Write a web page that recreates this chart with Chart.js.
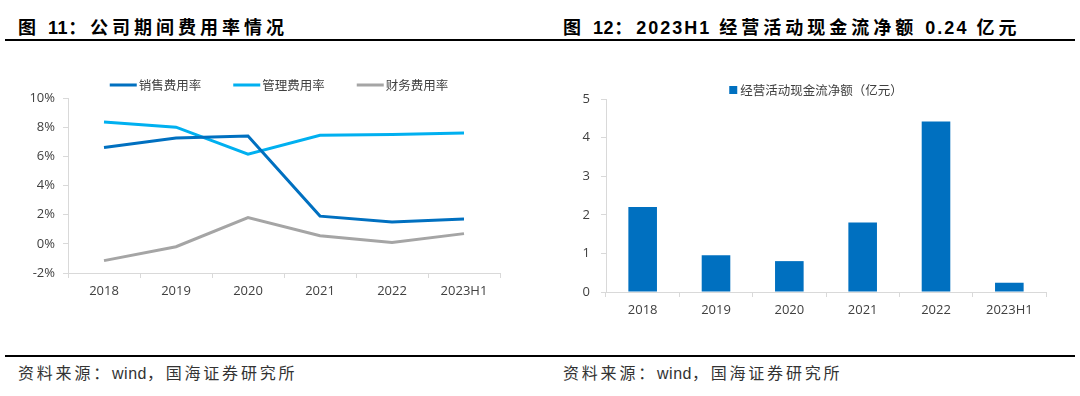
<!DOCTYPE html>
<html>
<head>
<meta charset="utf-8">
<script src="https://cdn.jsdelivr.net/npm/chart.js@4.4.0/dist/chart.umd.min.js"></script>
<style>
    body { margin: 0; width: 1080px; height: 396px; background: #fff; position: relative; overflow: hidden;
           font-family: 'Noto Sans CJK SC', sans-serif; }
    .title { position: absolute; top: 14px; font-size: 18px; font-weight: 700; letter-spacing: 4px;
             color: #000; line-height: 24px; white-space: nowrap; }
    .lat { font-family: 'Liberation Sans', sans-serif; letter-spacing: 0.5px; }
    .lat.wide { letter-spacing: 2px; }
    .rule { position: absolute; left: 5px; right: 5px; height: 2px; background: #000; }
    .src { position: absolute; top: 362px; font-size: 16px; letter-spacing: 2.8px; color: #333;
           line-height: 20px; white-space: nowrap; }
    .box { position: absolute; top: 50px; width: 540px; height: 270px; }
</style>
</head>
<body>
<div class="title" style="left:18px">图 <span class="lat">11</span>：公司期间费用率情况</div>
<div class="title" style="left:563px">图 <span class="lat">12</span>：<span class="lat wide">2023H1</span> 经营活动现金流净额 <span class="lat wide">0.24</span> 亿元</div>
<div class="rule" style="top:39px"></div>

<div class="box" style="left:0"><canvas id="rateChart" width="540" height="270"></canvas></div>
<div class="box" style="left:540px"><canvas id="cashChart" width="540" height="270"></canvas></div>

<div class="rule" style="top:355px"></div>
<div class="src" style="left:18px">资料来源：<span class="lat">wind</span>，国海证券研究所</div>
<div class="src" style="left:563px">资料来源：<span class="lat">wind</span>，国海证券研究所</div>

<script>
// categories and values
const years = ['2018', '2019', '2020', '2021', '2022', '2023H1'];
const salesRate = [6.6, 7.25, 7.4, 1.9, 1.5, 1.7];
const adminRate = [8.35, 8.0, 6.15, 7.45, 7.5, 7.6];
const financeRate = [-1.15, -0.2, 1.8, 0.55, 0.1, 0.7];
const rateTicks = [-2, 0, 2, 4, 6, 8, 10];

const cashFlow = [2.2, 0.95, 0.8, 1.8, 4.42, 0.24];
const cashTicks = [0, 1, 2, 3, 4, 5];

const axisColor = '#D9D9D9';
const labelColor = '#404040';
const tickFont = { family: "'Open Sans', sans-serif", size: 13 };

// one-row legend drawn where the reference has it
const rowLegend = {
    id: 'rowLegend',
    afterDraw(chart, args, opts) {
        const ctx = chart.ctx;
        ctx.save();
        ctx.font = opts.font;
        ctx.textBaseline = 'middle';
        const items = chart.data.datasets.map(ds => ({
            label: ds.label,
            color: ds.borderColor || ds.backgroundColor,
            w: ctx.measureText(ds.label).width
        }));
        const total = items.reduce((s, it) => s + opts.markW + opts.markGap + it.w, 0)
            + opts.itemGap * (items.length - 1);
        let x = opts.cx - total / 2;
        items.forEach(it => {
            ctx.fillStyle = it.color;
            if (opts.kind === 'line') {
                ctx.fillRect(x, opts.cy - 1.5, opts.markW, 3);
            } else {
                ctx.fillRect(x, opts.cy - opts.markW / 2, opts.markW, opts.markW);
            }
            x += opts.markW + opts.markGap;
            ctx.fillStyle = labelColor;
            ctx.fillText(it.label, x, opts.cy);
            x += it.w + opts.itemGap;
        });
        ctx.restore();
    }
};

function baseScales(ticksArr, fmt, yWidth, yPad, xHeight) {
    return {
        x: {
            type: 'category',
            offset: true,
            grid: { display: true, drawOnChartArea: false, drawTicks: true, tickLength: 5, color: axisColor, offset: true },
            border: { display: true, color: axisColor, width: 1 },
            ticks: { color: labelColor, font: tickFont, padding: 5, maxRotation: 0, autoSkip: false },
            afterFit: axis => { axis.height = xHeight; }
        },
        y: {
            min: ticksArr[0],
            max: ticksArr[ticksArr.length - 1],
            grid: { display: true, drawOnChartArea: false, drawTicks: true, tickLength: 5, color: axisColor },
            border: { display: true, color: axisColor, width: 1 },
            ticks: { color: labelColor, font: tickFont, padding: yPad, callback: fmt },
            afterBuildTicks: axis => { axis.ticks = ticksArr.map(v => ({ value: v })); },
            afterFit: axis => { axis.width = yWidth; }
        }
    };
}

new Chart(document.getElementById('rateChart'), {
    type: 'line',
    data: {
        labels: years,
        datasets: [
            { label: '销售费用率', data: salesRate, borderColor: '#0070C0' },
            { label: '管理费用率', data: adminRate, borderColor: '#00B0F0' },
            { label: '财务费用率', data: financeRate, borderColor: '#A5A5A5' }
        ].map(ds => Object.assign(ds, { borderWidth: 3, pointRadius: 0, tension: 0, fill: false }))
    },
    options: {
        responsive: false,
        animation: false,
        devicePixelRatio: 1,
        layout: { padding: { left: 0, right: 40, top: 48, bottom: 17 } },
        plugins: {
            legend: { display: false },
            tooltip: { enabled: false },
            rowLegend: { kind: 'line', cx: 279, cy: 35, markW: 27, markGap: 2, itemGap: 32,
                         font: "12.5px 'Noto Sans CJK SC', sans-serif" }
        },
        scales: baseScales(rateTicks, v => v + '%', 68, 8, 30)
    },
    plugins: [rowLegend]
});

new Chart(document.getElementById('cashChart'), {
    type: 'bar',
    data: {
        labels: years,
        datasets: [{
            label: '经营活动现金流净额（亿元）',
            data: cashFlow,
            backgroundColor: '#0070C0',
            barPercentage: 0.39,
            categoryPercentage: 1
        }]
    },
    options: {
        responsive: false,
        animation: false,
        devicePixelRatio: 1,
        layout: { padding: { left: 0, right: 34, top: 49, bottom: 0 } },
        plugins: {
            legend: { display: false },
            tooltip: { enabled: false },
            rowLegend: { kind: 'box', cx: 276, cy: 40, markW: 8, markGap: 3, itemGap: 0,
                         font: "12.5px 'Noto Sans CJK SC', sans-serif" }
        },
        scales: baseScales(cashTicks, v => v, 66, 11, 28)
    },
    plugins: [rowLegend]
});
</script>
</body>
</html>
